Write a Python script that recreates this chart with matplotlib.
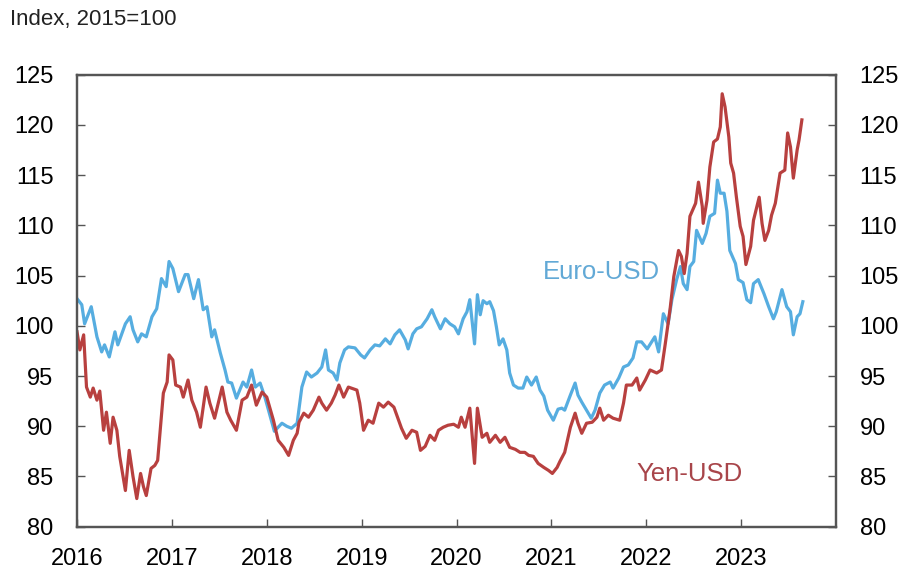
import matplotlib.pyplot as plt

plt.rcParams['font.family'] = ['Liberation Sans', 'DejaVu Sans']

# Euro-USD index (decimal years, index 2015=100)
euro_years = [
    2016.00, 2016.05, 2016.08, 2016.15, 2016.21, 2016.26, 2016.29, 2016.34, 2016.40, 2016.43,
    2016.51, 2016.56, 2016.59, 2016.64, 2016.68, 2016.73, 2016.79, 2016.84, 2016.89, 2016.94,
    2016.97, 2017.01, 2017.07, 2017.14, 2017.17, 2017.23, 2017.28, 2017.33, 2017.37, 2017.42,
    2017.45, 2017.51, 2017.56, 2017.59, 2017.63, 2017.68, 2017.75, 2017.79, 2017.84, 2017.88,
    2017.93, 2017.98, 2018.08, 2018.16, 2018.21, 2018.26, 2018.32, 2018.37, 2018.42, 2018.47,
    2018.53, 2018.58, 2018.62, 2018.65, 2018.70, 2018.74, 2018.77, 2018.82, 2018.86, 2018.93,
    2018.99, 2019.03, 2019.09, 2019.14, 2019.19, 2019.25, 2019.30, 2019.35, 2019.40, 2019.46,
    2019.49, 2019.54, 2019.58, 2019.63, 2019.69, 2019.74, 2019.77, 2019.83, 2019.88, 2019.93,
    2019.98, 2020.02, 2020.07, 2020.11, 2020.14, 2020.19, 2020.22, 2020.25, 2020.28, 2020.32,
    2020.35, 2020.39, 2020.42, 2020.45, 2020.49, 2020.53, 2020.56, 2020.60, 2020.65, 2020.70,
    2020.74, 2020.79, 2020.84, 2020.88, 2020.92, 2020.96, 2021.02, 2021.07, 2021.11, 2021.14,
    2021.20, 2021.25, 2021.28, 2021.32, 2021.37, 2021.42, 2021.46, 2021.51, 2021.56, 2021.62,
    2021.65, 2021.71, 2021.76, 2021.81, 2021.86, 2021.90, 2021.95, 2022.01, 2022.09, 2022.13,
    2022.18, 2022.23, 2022.27, 2022.32, 2022.36, 2022.39, 2022.43, 2022.46, 2022.50, 2022.53,
    2022.59, 2022.63, 2022.67, 2022.72, 2022.75, 2022.78, 2022.82, 2022.85, 2022.88, 2022.94,
    2022.97, 2023.02, 2023.06, 2023.10, 2023.13, 2023.18, 2023.24, 2023.29, 2023.34, 2023.37,
    2023.43, 2023.48, 2023.52, 2023.55, 2023.59, 2023.62, 2023.65,
]
euro_values = [
    102.7, 102.1, 100.2, 101.9, 98.9, 97.4, 98.1, 96.9, 99.4, 98.1,
    100.2, 100.9, 99.6, 98.4, 99.2, 98.9, 100.9, 101.7, 104.7, 103.9,
    106.4, 105.7, 103.4, 105.1, 105.1, 102.7, 104.6, 101.6, 101.9, 98.9,
    99.6, 97.3, 95.6, 94.4, 94.3, 92.8, 94.4, 93.9, 95.6, 93.9,
    94.3, 92.9, 89.5, 90.3, 90.0, 89.8, 90.3, 93.9, 95.4, 94.9,
    95.3, 95.9, 97.6, 95.6, 95.3, 94.6, 96.3, 97.6, 97.9, 97.8,
    97.1, 96.8, 97.6, 98.1, 98.0, 98.7, 98.2, 99.1, 99.6, 98.6,
    97.7, 99.2, 99.7, 99.9, 100.7, 101.6, 100.9, 99.7, 100.7, 100.2,
    99.9, 99.2, 100.7, 101.4, 102.6, 98.2, 103.1, 101.1, 102.5, 102.2,
    102.4, 101.5, 99.9, 98.1, 98.7, 97.6, 95.3, 94.1, 93.8, 93.8,
    94.9, 94.1, 94.9, 93.6, 93.0, 91.6, 90.6, 91.7, 91.8, 91.6,
    93.1, 94.3, 93.1, 92.4, 91.6, 90.8, 91.6, 93.3, 94.1, 94.4,
    93.8, 94.8, 95.9, 96.1, 96.8, 98.4, 98.4, 97.7, 98.9, 97.4,
    101.2, 100.2, 102.6, 104.6, 105.9, 104.2, 103.6, 105.9, 106.4, 109.5,
    108.2, 109.2, 110.9, 111.2, 114.5, 113.2, 113.2, 111.4, 107.5, 106.2,
    104.6, 104.3, 102.6, 102.3, 104.2, 104.6, 103.2, 101.9, 100.7, 101.4,
    103.6, 101.9, 101.4, 99.1, 100.9, 101.2, 102.4,
]

# Yen-USD index (decimal years, index 2015=100)
yen_years = [
    2016.00, 2016.03, 2016.07, 2016.10, 2016.14, 2016.17, 2016.21, 2016.24, 2016.28, 2016.31,
    2016.35, 2016.38, 2016.42, 2016.45, 2016.51, 2016.55, 2016.59, 2016.63, 2016.67, 2016.70,
    2016.73, 2016.78, 2016.82, 2016.85, 2016.88, 2016.91, 2016.95, 2016.97, 2017.01, 2017.04,
    2017.09, 2017.12, 2017.17, 2017.21, 2017.26, 2017.30, 2017.36, 2017.40, 2017.45, 2017.53,
    2017.58, 2017.62, 2017.68, 2017.74, 2017.79, 2017.84, 2017.89, 2017.95, 2018.00, 2018.07,
    2018.12, 2018.18, 2018.23, 2018.28, 2018.32, 2018.34, 2018.39, 2018.44, 2018.49, 2018.55,
    2018.58, 2018.63, 2018.68, 2018.72, 2018.76, 2018.81, 2018.86, 2018.89, 2018.95, 2018.98,
    2019.02, 2019.07, 2019.12, 2019.18, 2019.23, 2019.28, 2019.34, 2019.39, 2019.42, 2019.47,
    2019.53, 2019.58, 2019.62, 2019.67, 2019.72, 2019.77, 2019.81, 2019.86, 2019.91, 2019.97,
    2020.02, 2020.05, 2020.09, 2020.14, 2020.19, 2020.22, 2020.27, 2020.32, 2020.35, 2020.41,
    2020.46, 2020.51, 2020.56, 2020.62, 2020.67, 2020.72, 2020.76, 2020.81, 2020.86, 2020.92,
    2020.97, 2021.01, 2021.06, 2021.09, 2021.14, 2021.20, 2021.25, 2021.28, 2021.32, 2021.37,
    2021.43, 2021.48, 2021.51, 2021.55, 2021.60, 2021.65, 2021.72, 2021.76, 2021.79, 2021.85,
    2021.90, 2021.93, 2021.99, 2022.04, 2022.11, 2022.16, 2022.20, 2022.25, 2022.29, 2022.34,
    2022.37, 2022.40, 2022.43, 2022.46, 2022.52, 2022.55, 2022.59, 2022.60, 2022.64, 2022.67,
    2022.71, 2022.75, 2022.78, 2022.80, 2022.83, 2022.87, 2022.89, 2022.92, 2022.95, 2022.99,
    2023.02, 2023.05, 2023.10, 2023.13, 2023.19, 2023.22, 2023.25, 2023.29, 2023.32, 2023.36,
    2023.41, 2023.46, 2023.49, 2023.52, 2023.55, 2023.59, 2023.61, 2023.64,
]
yen_values = [
    99.4, 97.6, 99.1, 93.9, 92.9, 93.8, 92.6, 93.5, 89.6, 91.4,
    88.3, 90.9, 89.6, 87.0, 83.6, 87.6, 85.0, 82.8, 85.3, 84.0,
    83.1, 85.8, 86.1, 86.6, 90.0, 93.3, 94.4, 97.1, 96.6, 94.1,
    93.9, 92.9, 94.6, 92.6, 91.4, 89.9, 93.9, 92.3, 90.8, 93.9,
    91.4, 90.6, 89.6, 92.6, 92.9, 94.1, 92.1, 93.4, 92.9, 90.6,
    88.6, 87.9, 87.1, 88.6, 89.3, 90.4, 91.3, 90.9, 91.6, 92.9,
    92.3, 91.6, 92.3, 93.1, 94.1, 92.9, 93.9, 93.8, 93.6, 92.3,
    89.6, 90.6, 90.3, 92.3, 91.9, 92.4, 91.9, 90.6, 89.8, 88.8,
    89.6, 89.4, 87.6, 88.0, 89.1, 88.6, 89.6, 89.9, 90.1, 90.2,
    89.9, 90.9, 89.9, 91.8, 86.3, 91.8, 88.9, 89.3, 88.4, 89.1,
    88.4, 88.9, 87.9, 87.7, 87.4, 87.4, 87.1, 87.0, 86.3, 85.9,
    85.6, 85.3, 85.9, 86.5, 87.4, 89.9, 91.3, 90.3, 89.3, 90.3,
    90.4, 90.9, 91.8, 90.6, 91.1, 90.8, 90.6, 92.3, 94.1, 94.1,
    94.8, 93.6, 94.6, 95.6, 95.3, 95.6, 98.2, 101.6, 104.9, 107.5,
    106.9, 105.2, 107.2, 110.9, 112.2, 114.3, 111.9, 110.2, 112.5, 115.8,
    118.3, 118.6, 119.8, 123.1, 121.8, 118.8, 116.2, 115.2, 112.8, 109.9,
    108.9, 106.1, 107.9, 110.5, 112.8, 110.2, 108.5, 109.5, 111.0, 112.2,
    115.2, 115.5, 119.2, 117.8, 114.7, 117.5, 118.5, 120.5,
]

year_ticks = [2016, 2017, 2018, 2019, 2020, 2021, 2022, 2023]
value_ticks = [80, 85, 90, 95, 100, 105, 110, 115, 120, 125]

euro_color = '#56ade0'
yen_color = '#b8403f'
spine_color = '#555555'

fig = plt.figure(figsize=(9.05, 5.71), dpi=100)
ax = fig.add_axes([0.0851, 0.0776, 0.8387, 0.7916])

ax.plot(euro_years, euro_values, color=euro_color, lw=2.3, solid_joinstyle='round')
ax.plot(yen_years, yen_values, color=yen_color, lw=2.3, solid_joinstyle='round')

ax.set_xlim(2016, 2024)
ax.set_ylim(80, 125)
ax.set_xticks(year_ticks)
ax.set_xticklabels([str(y) for y in year_ticks])
ax.set_yticks(value_ticks)

for side in ['left', 'right', 'top', 'bottom']:
    ax.spines[side].set_color(spine_color)
    ax.spines[side].set_linewidth(1.6)

ax.tick_params(axis='x', direction='in', length=6, width=1, color=spine_color,
               labelsize=17, pad=15)
ax.tick_params(axis='y', direction='in', length=6, width=1, color=spine_color,
               labelsize=17, pad=17)

ax_r = ax.twinx()
ax_r.set_ylim(80, 125)
ax_r.set_yticks(value_ticks)
ax_r.tick_params(axis='y', direction='in', length=6, width=1, color=spine_color,
                 labelsize=17, pad=17)
for side in ['left', 'right', 'top', 'bottom']:
    ax_r.spines[side].set_color(spine_color)
    ax_r.spines[side].set_linewidth(1.6)

ax.text(2020.91, 105.35, 'Euro-USD', color='#62a9d6', fontsize=18.5, ha='left', va='center')
ax.text(2021.90, 85.23, 'Yen-USD', color='#a8454a', fontsize=18.5, ha='left', va='center')

fig.text(0.011, 0.965, 'Index, 2015=100', fontsize=16, ha='left', va='center', color='#222222')

plt.savefig('out.png', dpi=100)
plt.close()
